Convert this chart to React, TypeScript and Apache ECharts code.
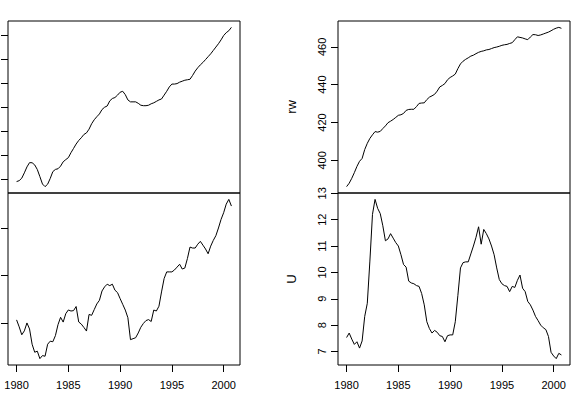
import React, { useEffect, useRef } from "react";
import * as echarts from "echarts";

const START_YEAR = 1980;
const FREQ = 4;

const e = [
  929.61, 929.8, 930.32, 931.43, 932.66, 933.55, 933.53, 933.08,
  932.12, 930.64, 929.1, 928.56, 929.07, 930.27, 931.68, 932.14,
  932.28, 932.83, 933.73, 934.18, 934.59, 935.61, 936.51, 937.42,
  938.16, 938.73, 939.41, 939.74, 940.52, 941.65, 942.48, 943.11,
  943.68, 944.6, 945.08, 945.34, 946.4, 946.9, 947.1, 947.6,
  948.2, 948.4, 947.7, 946.6, 946.2, 946.2, 946.2, 945.9,
  945.5, 945.4, 945.4, 945.5, 945.8, 946.0, 946.3, 946.6,
  946.8, 947.6, 948.4, 949.3, 949.9, 949.9, 950.0, 950.3,
  950.5, 950.7, 950.8, 950.9, 951.7, 952.6, 953.3, 953.9,
  954.4, 955.0, 955.6, 956.2, 956.9, 957.6, 958.3, 959.1,
  960.0, 960.6, 961.0, 961.7,
];

const prod = [
  405.37, 404.64, 403.81, 404.22, 405.05, 404.42, 402.82, 401.98,
  402.09, 401.31, 401.63, 401.56, 402.82, 403.14, 403.08, 403.72,
  404.87, 405.64, 405.14, 406.02, 406.41, 406.3, 406.34, 406.77,
  405.15, 404.93, 404.58, 404.2, 405.94, 405.85, 406.45, 407.04,
  407.42, 408.4, 408.83, 409.11, 408.96, 409.11, 408.48, 408.23,
  407.6, 407.0, 406.4, 405.6, 403.3, 403.4, 403.5, 404.0,
  404.6, 405.0, 405.3, 405.4, 405.2, 406.4, 406.3, 406.8,
  408.3, 409.7, 410.4, 410.4, 410.4, 410.6, 410.9, 411.2,
  410.7, 410.8, 411.8, 413.0, 412.9, 412.9, 413.3, 413.6,
  413.2, 412.8, 412.3, 413.1, 413.7, 414.2, 415.0, 415.9,
  416.6, 417.5, 418.0, 417.3,
];

const rw = [
  386.1, 387.9, 390.5, 393.5, 396.8, 399.5, 401.0, 405.7,
  409.0, 411.6, 413.5, 415.2, 414.9, 415.3, 416.8, 418.2,
  419.9, 420.7, 421.6, 422.7, 423.8, 424.1, 424.8, 426.4,
  426.9, 427.0, 427.0, 428.4, 430.1, 430.3, 430.4, 432.1,
  433.4, 434.1, 434.9, 436.6, 438.8, 439.6, 440.6, 442.6,
  443.8, 444.6, 445.6, 448.5, 451.0, 452.4, 453.4, 454.2,
  455.1, 455.6, 456.4, 457.1, 457.6, 457.9, 458.4, 458.6,
  459.1, 459.6, 459.9, 460.3, 460.8, 461.1, 461.3, 461.8,
  462.2, 463.8, 465.3, 465.0, 464.7, 464.2, 463.8, 465.2,
  466.5, 466.4, 466.0, 466.3, 466.8, 467.3, 467.8, 468.5,
  469.3, 469.9, 470.3, 469.8,
];

const U = [
  7.53, 7.7, 7.47, 7.27, 7.37, 7.13, 7.4, 8.33,
  8.83, 10.43, 12.2, 12.77, 12.43, 12.23, 11.77, 11.2,
  11.27, 11.47, 11.3, 11.13, 11.0, 10.67, 10.3, 10.2,
  9.67, 9.6, 9.57, 9.5, 9.47, 9.2, 8.77, 8.13,
  7.87, 7.7, 7.8, 7.73, 7.6, 7.57, 7.37, 7.6,
  7.63, 7.63, 8.13, 9.13, 10.17, 10.37, 10.4, 10.4,
  10.7, 11.0, 11.33, 11.73, 11.07, 11.63, 11.47, 11.27,
  11.0, 10.67, 10.17, 9.73, 9.57, 9.5, 9.47, 9.27,
  9.47, 9.43, 9.7, 9.9, 9.4, 9.27, 8.9, 8.77,
  8.57, 8.33, 8.17, 8.0, 7.9, 7.83, 7.57, 6.97,
  6.83, 6.73, 6.93, 6.87,
];

const yearTicks = [1980, 1985, 1990, 1995, 2000];
const eTicks = [930, 935, 940, 945, 950, 955, 960];
const prodTicks = [405, 410, 415];
const rwTicks = [400, 420, 440, 460];
const uTicks = [7, 8, 9, 10, 11, 12, 13];

const FONT = "'Liberation Sans', Arial, Helvetica, sans-serif";

function rRange(arr: number[]) {
  const lo = Math.min(...arr);
  const hi = Math.max(...arr);
  const pad = (hi - lo) * 0.04;
  return { min: lo - pad, max: hi + pad };
}

const plain = (v: number) => String(v);

export default function App() {
  const ref = useRef<HTMLDivElement>(null);

  useEffect(() => {
    if (!ref.current) return;
    const chart = echarts.init(ref.current, undefined, { renderer: "svg" });
    const time = e.map((_, i) => START_YEAR + i / FREQ);
    const xr = rRange(time);

    const panels = [
      { data: e, ticks: eTicks, name: "", showLabels: false, showX: false },
      { data: prod, ticks: prodTicks, name: "", showLabels: false, showX: true },
      { data: rw, ticks: rwTicks, name: "rw", showLabels: true, showX: false },
      { data: U, ticks: uTicks, name: "U", showLabels: true, showX: true },
    ];

    const grids = [
      { left: 8, top: 21, width: 232, height: 172 },
      { left: 8, top: 193, width: 232, height: 172 },
      { left: 338, top: 21, width: 232, height: 172 },
      { left: 338, top: 193, width: 232, height: 172 },
    ].map((g) => ({
      ...g,
      show: true,
      borderColor: "#000",
      borderWidth: 1,
      backgroundColor: "transparent",
    }));

    const xAxis = panels.map((p, i) => ({
      type: "value",
      gridIndex: i,
      min: xr.min,
      max: xr.max,
      show: p.showX,
      axisLine: { show: false },
      splitLine: { show: false },
      axisTick: {
        show: true,
        length: 7,
        customValues: yearTicks,
        lineStyle: { color: "#000", width: 1 },
      },
      axisLabel: {
        customValues: yearTicks,
        formatter: plain,
        fontSize: 11,
        color: "#000",
        margin: 14,
        fontFamily: FONT,
      },
    }));

    const yAxis = panels.map((p, i) => {
      const yr = rRange(p.data);
      return {
        type: "value",
        gridIndex: i,
        min: yr.min,
        max: yr.max,
        name: p.name,
        nameLocation: "middle",
        nameRotate: 90,
        nameGap: 40,
        nameTextStyle: { fontSize: 13, color: "#000", fontFamily: FONT },
        axisLine: { show: false },
        splitLine: { show: false },
        axisTick: {
          show: true,
          length: 7,
          customValues: p.ticks,
          lineStyle: { color: "#000", width: 1 },
        },
        axisLabel: {
          show: p.showLabels,
          customValues: p.ticks,
          formatter: plain,
          rotate: 90,
          fontSize: 11,
          color: "#000",
          margin: 11,
          fontFamily: FONT,
        },
      };
    });

    const series = panels.map((p, i) => ({
      type: "line",
      xAxisIndex: i,
      yAxisIndex: i,
      data: time.map((t, k) => [t, p.data[k]]),
      showSymbol: false,
      symbol: "none",
      silent: true,
      lineStyle: { color: "#000", width: 1 },
    }));

    chart.setOption({
      animation: false,
      backgroundColor: "#fff",
      textStyle: { fontFamily: FONT },
      grid: grids,
      xAxis,
      yAxis,
      series,
    });

    return () => chart.dispose();
  }, []);

  return (
    <div
      ref={ref}
      style={{ position: "absolute", left: 0, top: 0, width: 576, height: 396 }}
    />
  );
}
